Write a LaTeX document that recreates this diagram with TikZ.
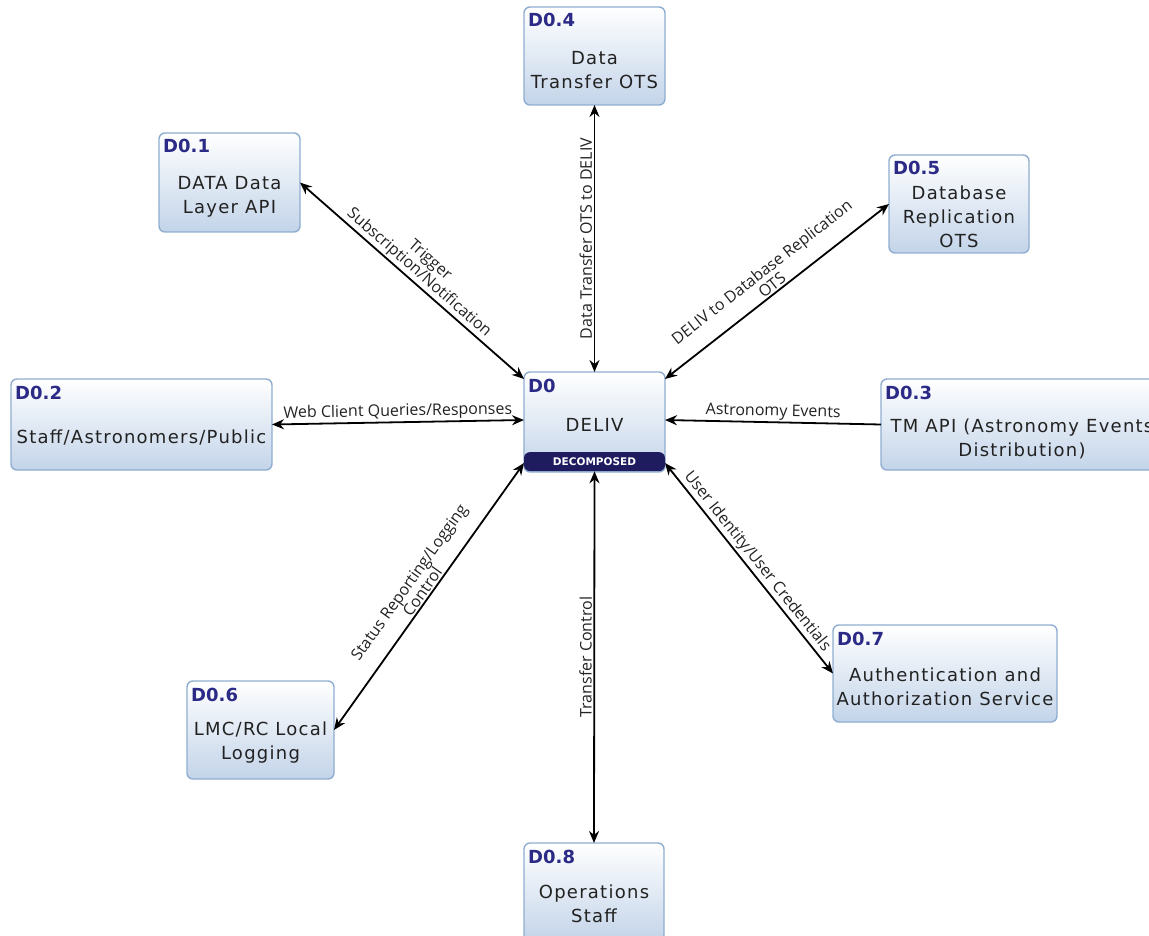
\documentclass[tikz,border=0pt]{standalone}
\usepackage{fontspec}
\setmainfont{DejaVu Sans}
\newfontfamily\boxfont[LetterSpace=7]{DejaVu Sans}
\newfontfamily\hdrfont{DejaVu Sans}
\newfontfamily\lblfont{Open Sans}
\usetikzlibrary{arrows.meta}

\definecolor{boxedge}{HTML}{8FADD0}
\definecolor{boxlow}{HTML}{C3D4E9}
\definecolor{hdrblue}{HTML}{2B2A86}
\definecolor{barnavy}{HTML}{1E1B5E}
\definecolor{bodytext}{HTML}{222222}

\tikzset{
  pbox/.style={draw=boxedge, line width=1.4pt, rounded corners=6pt,
    top color=white, bottom color=boxlow, inner sep=0pt, outer sep=0pt},
  hdr/.style={anchor=base west, inner sep=0pt, text=hdrblue,
    font=\hdrfont\fontsize{18}{22}\selectfont\bfseries},
  body/.style={align=center, inner sep=0pt, text=bodytext,
    font=\boxfont\fontsize{18}{24}\selectfont},
  decbar/.style={fill=barnavy, rounded corners=6pt, inner sep=0pt,
    minimum height=19pt, text=white,
    font=\hdrfont\fontsize{10.5}{12}\selectfont\bfseries},
  flow/.style={line width=1.8pt, black},
  both/.style={flow, {Stealth[length=12pt,width=10pt]}-{Stealth[length=12pt,width=10pt]}},
  intohead/.style={flow, {Stealth[length=12pt,width=10pt]}-},
  lbl/.style={sloped, above, align=center, inner sep=1.5pt, text=bodytext,
    font=\lblfont\fontsize{16}{16.5}\selectfont},
}

% \procbox{name}{x1}{y1}{x2}{y2}{id}{body}{body offset}
\newcommand{\procbox}[8]{%
  \node[pbox, minimum width={(#4-#2)*1pt}, minimum height={(#5-#3)*1pt}]
    (#1) at ({(#2+#4)/2},{(#3+#5)/2}) {};
  \node[hdr] (#1h) at ([xshift=4pt,yshift=-20pt]#1.north west) {#6};
  \node[body] (#1t) at ([yshift=-#8pt]#1.center) {#7};
}

\begin{document}
\begin{tikzpicture}[x=1pt,y=-1pt]
\useasboundingbox (0,0) rectangle (1149,936);
\clip (0,0) rectangle (1149,936);

% process boxes
\procbox{d04}{524}{7}{665}{105}{D0.4}{Data\\Transfer OTS}{14}
\procbox{d01}{159}{133}{300}{232}{D0.1}{DATA Data\\Layer API}{14}
\procbox{d05}{889}{155}{1029}{253}{D0.5}{Database\\Replication\\OTS}{13}
\procbox{d02}{11}{379}{272}{470}{D0.2}{Staff/Astronomers/Public}{13}
\procbox{d03}{881}{379}{1163}{470}{D0.3}{TM API (Astronomy Events\\Distribution)}{14}
\procbox{d06}{187}{681}{334}{779}{D0.6}{LMC/RC Local\\Logging}{13}
\procbox{d07}{833}{625}{1057}{722}{D0.7}{Authentication and\\Authorization Service}{13}
\procbox{d08}{524}{843}{664}{941}{D0.8}{Operations\\Staff}{12}

% central process
\procbox{d0}{524}{372}{665}{472}{D0}{DELIV}{3}
\node[decbar, minimum width=141pt, anchor=south] (d0bar) at ([yshift=0.7pt]d0.south) {DECOMPOSED};

% flows
\draw[both] (d01.east) -- ([yshift=-7pt]d0.north west)
  node[lbl, midway] (l1) {Trigger\\Subscription/Notification};
\draw[both] (d0.north) -- (d04.south)
  node[lbl, midway] (l2) {Data Transfer OTS to DELIV};
\draw[both] ([yshift=-7pt]d0.north east) -- (d05.west)
  node[lbl, midway] (l3) {DELIV to Database Replication\\OTS};
\draw[both] (d02.east) -- ([yshift=2pt]d0.west)
  node[lbl, midway] (l4) {Web Client Queries/Responses};
\draw[intohead] ([yshift=2pt]d0.east) -- (d03.west)
  node[lbl, midway] (l5) {Astronomy Events};
\draw[both] (d06.east) -- ([yshift=9pt]d0.south west)
  node[lbl, midway] (l6) {Status Reporting/Logging\\Control};
\draw[both] ([yshift=9pt]d0.south east) -- (d07.west)
  node[lbl, midway] (l7) {User Identity/User Credentials};
\draw[both] (d08.north) -- (d0bar.south)
  node[lbl, midway] (l8) {Transfer Control};
\end{tikzpicture}
\end{document}
